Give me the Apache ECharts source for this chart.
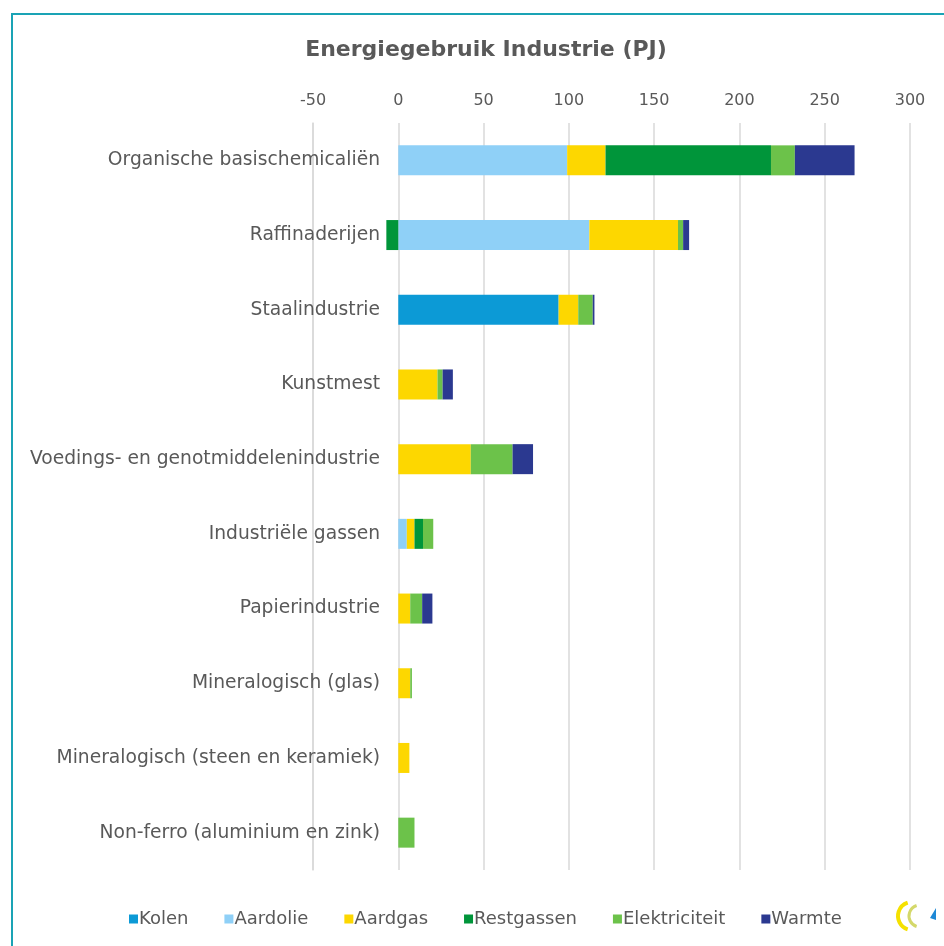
<!DOCTYPE html>
<html><head><meta charset="utf-8">
<script src="https://cdn.jsdelivr.net/npm/echarts@6/dist/echarts.min.js"></script>
<style>html,body{margin:0;padding:0;background:#fff}#c{width:944px;height:946px}</style>
</head><body><div id="c"></div>
<script>
const categories = ["Organische basischemicaliën","Raffinaderijen","Staalindustrie","Kunstmest","Voedings- en genotmiddelenindustrie","Industriële gassen","Papierindustrie","Mineralogisch (glas)","Mineralogisch (steen en keramiek)","Non-ferro (aluminium en zink)"];
const kolen         = [0, 0, 94, 0, 0, 0, 0, 0, 0, 0];
const aardolie      = [99, 112, 0, 0, 0, 5, 0, 0, 0, 0];
const aardgas       = [22.5, 52, 11.5, 23, 42.5, 4.5, 7, 7, 6.5, 0];
const restgassen    = [97, -7, 0, 0, 0, 5, 0, 0, 0, 0];
const elektriciteit = [14, 3, 8.5, 3, 24.5, 6, 7, 1, 0, 9.5];
const warmte        = [35, 3.5, 1, 6, 12, 0, 6, 0, 0, 0];
const seriesNames = ["Kolen","Aardolie","Aardgas","Restgassen","Elektriciteit","Warmte"];
const seriesData = [kolen, aardolie, aardgas, restgassen, elektriciteit, warmte];
const colors = ["#0c9ad6","#8fd0f7","#fdd700","#00953a","#6cc24a","#2b3990"];

const chart = echarts.init(document.getElementById('c'));
const font = "DejaVu Sans";
chart.setOption({
  animation:false,
  title:{text:"Energiegebruik Industrie (PJ)", left:481, top:34, textAlign:'center',
    textStyle:{fontFamily:font, fontSize:22, fontWeight:'bold', color:'#595959'}},
  legend:{bottom:13, left:124, itemWidth:9, itemHeight:9, itemGap:36,
    icon:'rect', data:seriesNames,
    textStyle:{fontFamily:font, fontSize:18, color:'#595959', padding:[0,0,0,-4]}},
  grid:{left:313, right:34, top:123, bottom:76},
  xAxis:{type:'value', position:'top', min:-50, max:300, interval:50,
    axisLine:{show:false}, axisTick:{show:false},
    axisLabel:{fontFamily:font, fontSize:16, color:'#595959', margin:14},
    splitLine:{lineStyle:{color:'#d9d9d9', width:1.5}}},
  yAxis:{type:'category', inverse:true, data:categories,
    axisLine:{onZero:false, lineStyle:{color:'#d9d9d9', width:1.5}}, axisTick:{show:false},
    axisLabel:{fontFamily:font, fontSize:18.7, color:'#595959', margin:-67}},
  series: seriesNames.map((n,i)=>({
    name:n, type:'bar', stack: 'tot', barWidth:30,
    itemStyle:{color:colors[i]},
    data: seriesData[i]
  })),
  graphic:[
    {type:'rect', shape:{x:12, y:14, width:960, height:960}, style:{fill:'none', stroke:'#1aa3b5', lineWidth:2}, silent:true},
    {type:'arc', shape:{cx:912, cy:916, r:14, startAngle:Math.PI*0.6, endAngle:Math.PI*1.4}, style:{fill:'none', stroke:'#f5e100', lineWidth:4}},
    {type:'arc', shape:{cx:920, cy:916, r:11, startAngle:Math.PI*0.6, endAngle:Math.PI*1.4}, style:{fill:'none', stroke:'#d4d86a', lineWidth:3}},
    {type:'polygon', shape:{points:[[930,918],[936,908],[936,920]]}, style:{fill:'#1e88d6'}}
  ]
});
</script></body></html>
